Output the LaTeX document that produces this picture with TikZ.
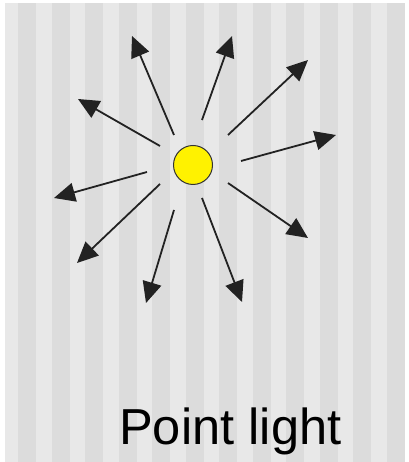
\documentclass[tikz,border=0pt]{standalone}
\usepackage{fontspec}
\setmainfont{Liberation Sans}
\usetikzlibrary{arrows.meta}

\definecolor{stripelight}{HTML}{E8E8E8}
\definecolor{stripedark}{HTML}{DCDCDC}
\definecolor{raygray}{HTML}{222222}

\begin{document}
\begin{tikzpicture}
      [x=1pt, y=1pt,
       sun node/.style={circle,draw=black!80,line width=1pt,fill=yellow,minimum size=39pt,inner sep=0pt},
       ray/.style={draw=raygray,line width=1.8pt,-{Triangle[length=21pt,width=19pt]}},
       caption text/.style={font=\fontsize{50.6}{60}\selectfont,inner sep=0pt,anchor=base west}]
      \useasboundingbox (0,0) rectangle (408,462);
      \fill[white] (0,0) rectangle (408,462);

      % striped backdrop
      \fill[stripelight] (5,0) rectangle (405,459);
      \foreach \k in {0,...,11}
         \fill[stripedark] (18+33.5*\k,0) rectangle (36+33.5*\k,459);

      \node[sun node] (sun) at (193,297) {};

      % rays: tail x/y, head x/y
      \foreach \n/\tx/\ty/\hx/\hy in {1/174/327/132/426, 2/202/342/232/426,
            3/228/327/308/402, 4/241/301/336/327, 5/228/279/308/224,
            6/202/264/242/160, 7/174/252/146/159, 8/160/278/77/199,
            9/147/290/54/264, 10/160/316/78/363}
      {
         \coordinate (tail\n) at (\tx,\ty);
         \coordinate (head\n) at (\hx,\hy);
         \draw[ray] (tail\n) -- (head\n);
      }

      \node[caption text] (caption) at (119,17) {Point light};
   \end{tikzpicture}
\end{document}
